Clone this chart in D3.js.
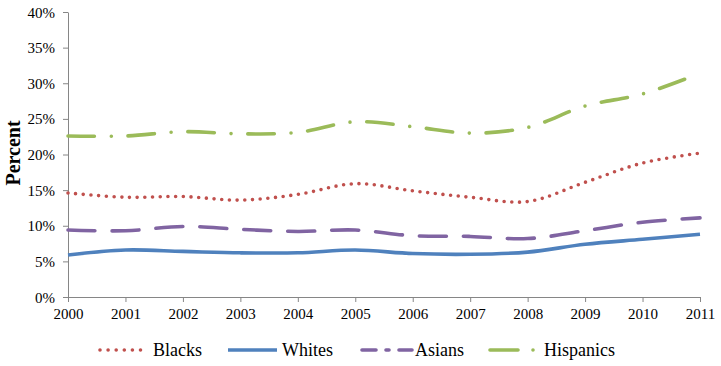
<!DOCTYPE html>
<html>
<head>
<meta charset="utf-8">
<script src="https://d3js.org/d3.v7.min.js"></script>
<style>
  body { margin: 0; background: #fff; }
  svg text { font-family: "Liberation Serif", serif; }
</style>
</head>
<body>
<svg id="drawing_region"></svg>
<script>
var years = [2000, 2001, 2002, 2003, 2004, 2005, 2006, 2007, 2008, 2009, 2010, 2011];
var blacks    = [14.6, 14.0, 14.1, 13.6, 14.4, 15.9, 14.9, 14.0, 13.4, 16.1, 18.8, 20.2];
var whites    = [5.9, 6.6, 6.4, 6.2, 6.2, 6.6, 6.1, 6.0, 6.3, 7.4, 8.1, 8.8];
var asians    = [9.4, 9.3, 9.9, 9.5, 9.2, 9.4, 8.6, 8.5, 8.2, 9.3, 10.5, 11.1];
var hispanics = [22.6, 22.6, 23.2, 22.9, 23.1, 24.6, 23.9, 23.0, 23.8, 26.8, 28.5, 31.4];
var yticks = [0, 5, 10, 15, 20, 25, 30, 35, 40];

var series = [
  {name: 'Blacks', values: blacks, color: '#C0504D', dash: '0 7.7'},
  {name: 'Whites', values: whites, color: '#4F81BD', dash: null},
  {name: 'Asians', values: asians, color: '#8064A2', dash: '27 17'},
  {name: 'Hispanics', values: hispanics, color: '#9BBB59', dash: '26.5 16.75 0 16.75'}
];

var config = {
  width: 721,
  height: 366,
  margin: {top: 12, right: 21, bottom: 69, left: 68}
};

var svg = d3.select('#drawing_region')
  .attr('width', config.width)
  .attr('height', config.height);

var inner_width = config.width - config.margin.left - config.margin.right;
var inner_height = config.height - config.margin.top - config.margin.bottom;

var chart = svg.append('g')
  .attr('transform', `translate(${config.margin.left}, ${config.margin.top})`);

var xscale = d3.scalePoint()
  .domain(years)
  .range([0, inner_width]);

var yscale = d3.scaleLinear()
  .domain([0, 40])
  .range([inner_height, 0]);

var xaxis = d3.axisBottom(xscale)
  .tickSize(5)
  .tickPadding(6)
  .tickSizeOuter(0);

var yaxis = d3.axisLeft(yscale)
  .tickValues(yticks)
  .tickFormat(d => d + '%')
  .tickSize(5)
  .tickPadding(8)
  .tickSizeOuter(0);

var xaxis_group = chart.append('g')
  .attr('transform', `translate(0, ${inner_height})`)
  .call(xaxis);

var yaxis_group = chart.append('g')
  .call(yaxis);

xaxis_group.attr('font-family', '"Liberation Serif", serif').attr('font-size', 15);
yaxis_group.attr('font-family', '"Liberation Serif", serif').attr('font-size', 15);

chart.selectAll('.domain, .tick line')
  .attr('stroke', '#868686')
  .attr('stroke-width', 1);

chart.selectAll('.tick text')
  .attr('fill', '#000');

yaxis_group.selectAll('.tick text').attr('dy', '0.34em');

svg.append('text')
  .attr('transform', 'translate(20, 153) rotate(-90)')
  .attr('text-anchor', 'middle')
  .attr('font-family', '"Liberation Serif", serif')
  .attr('font-size', 20)
  .attr('font-weight', 'bold')
  .text('Percent');

var line = d3.line()
  .x((d, i) => xscale(years[i]))
  .y(d => yscale(d))
  .curve(d3.curveCatmullRom.alpha(0.5));

chart.selectAll('path.series')
  .data(series)
  .enter()
  .append('path')
  .attr('class', 'series')
  .attr('d', d => line(d.values))
  .attr('fill', 'none')
  .attr('stroke', d => d.color)
  .attr('stroke-width', 3.6)
  .attr('stroke-linecap', d => d.dash ? 'round' : 'butt')
  .attr('stroke-dasharray', d => d.dash);

// legend
var legend_items = [
  {x0: 100, x1: 142, tx: 153, dash: '0 8.1'},
  {x0: 228, x1: 277, tx: 282, dash: null},
  {x0: 362, x1: 412, tx: 415, dash: '14 10 3 10'},
  {x0: 490, x1: 536, tx: 544, dash: '28 15 0 20'}
];

var legend = svg.append('g');

var item = legend.selectAll('g')
  .data(series)
  .enter()
  .append('g');

item.append('line')
  .attr('x1', (d, i) => legend_items[i].x0)
  .attr('x2', (d, i) => legend_items[i].x1)
  .attr('y1', 350)
  .attr('y2', 350)
  .attr('stroke', d => d.color)
  .attr('stroke-width', 3.6)
  .attr('stroke-linecap', d => d.dash ? 'round' : 'butt')
  .attr('stroke-dasharray', (d, i) => legend_items[i].dash);

item.append('text')
  .attr('x', (d, i) => legend_items[i].tx)
  .attr('y', 350)
  .attr('dy', '0.35em')
  .attr('font-family', '"Liberation Serif", serif')
  .attr('font-size', 18)
  .text(d => d.name);
</script>
</body>
</html>
